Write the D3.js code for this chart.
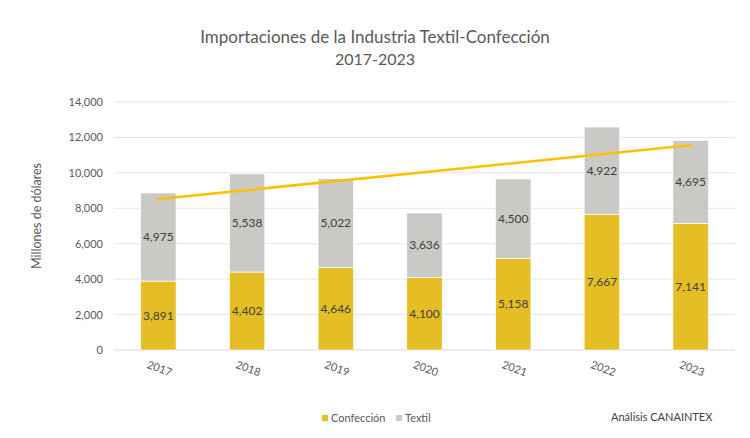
<!DOCTYPE html>
<html><head><meta charset="utf-8">
<script src="https://cdn.jsdelivr.net/npm/d3@7"></script>
<style>
body{margin:0;background:#fff;}
svg{font-family:Lato,"Open Sans",sans-serif;}
</style></head>
<body><svg id="c" width="750" height="438"></svg>
<script>
const years = ["2017","2018","2019","2020","2021","2022","2023"];
const confeccion = [3891,4402,4646,4100,5158,7667,7141];
const textil = [4975,5538,5022,3636,4500,4922,4695];
const yTicks = [0,2000,4000,6000,8000,10000,12000,14000];
const colors = {conf:"#E5BE25", text:"#C9C9C5", trend:"#FFC000"};

const svg = d3.select("#c");
const x = d3.scaleBand().domain(years).range([114,735]).paddingInner(0.6).paddingOuter(0.3);
const y = d3.scaleLinear().domain([0,14000]).range([350,102]);
const fmt = d3.format(",");

svg.append("g").selectAll("line").data(yTicks).join("line")
  .attr("x1",114).attr("x2",735).attr("y1",d=>y(d)).attr("y2",d=>y(d))
  .attr("stroke",d=>d===0?"#d9d9d9":"#e6e6e6").attr("stroke-width",1);

svg.append("g").selectAll("text").data(yTicks).join("text")
  .attr("x",103).attr("y",d=>y(d)+4).attr("text-anchor","end")
  .attr("font-size",11).attr("fill","#595959").text(fmt);

const g = svg.append("g");
years.forEach((yr,i)=>{
  const c = confeccion[i], t = textil[i];
  g.append("rect").attr("x",x(yr)).attr("width",x.bandwidth())
    .attr("y",y(c)).attr("height",y(0)-y(c)).attr("fill",colors.conf)
    .attr("stroke","#fff").attr("stroke-width",0.7);
  g.append("rect").attr("x",x(yr)).attr("width",x.bandwidth())
    .attr("y",y(c+t)).attr("height",y(c)-y(c+t)).attr("fill",colors.text)
    .attr("stroke","#fff").attr("stroke-width",0.7);
  g.append("text").attr("x",x(yr)+x.bandwidth()/2).attr("y",(y(0)+y(c))/2+4)
    .attr("text-anchor","middle").attr("font-size",12).attr("fill","#404040").text(fmt(c));
  g.append("text").attr("x",x(yr)+x.bandwidth()/2).attr("y",(y(c)+y(c+t))/2+4)
    .attr("text-anchor","middle").attr("font-size",12).attr("fill","#404040").text(fmt(t));
});

const totals = confeccion.map((c,i)=>c+textil[i]);
const n = totals.length, mx = (n-1)/2, my = d3.mean(totals);
let sxy=0,sxx=0;
totals.forEach((v,i)=>{sxy+=(i-mx)*(v-my);sxx+=(i-mx)*(i-mx);});
const slope = sxy/sxx, icpt = my - slope*mx;
const cx = yr => x(yr)+x.bandwidth()/2;
svg.append("line")
  .attr("x1",cx(years[0])).attr("y1",y(icpt))
  .attr("x2",cx(years[n-1])).attr("y2",y(icpt+slope*(n-1)))
  .attr("stroke",colors.trend).attr("stroke-width",2.5).attr("stroke-linecap","square");

svg.append("g").selectAll("text").data(years).join("text")
  .attr("transform",d=>`translate(${cx(d)},${372}) rotate(20)`)
  .attr("text-anchor","middle").attr("font-size",11).attr("fill","#595959").text(d=>d);

svg.append("text").attr("x",375).attr("y",43).attr("text-anchor","middle")
  .attr("font-size",17).attr("fill","#595959").text("Importaciones de la Industria Textil-Confección");
svg.append("text").attr("x",375).attr("y",65).attr("text-anchor","middle")
  .attr("font-size",16).attr("fill","#595959").text("2017-2023");

svg.append("text").attr("transform","translate(41,216) rotate(-90)").attr("text-anchor","middle")
  .attr("font-size",12.5).attr("fill","#595959").text("Millones de dólares");

const leg = [["Confección",colors.conf,322],["Textil",colors.text,396]];
leg.forEach(([lab,col,lx])=>{
  svg.append("rect").attr("x",lx).attr("y",415).attr("width",6).attr("height",6).attr("fill",col);
  svg.append("text").attr("x",lx+9).attr("y",422).attr("font-size",11).attr("fill","#595959").text(lab);
});
svg.append("text").attr("x",611).attr("y",421).attr("font-size",11).attr("fill","#404040").text("Análisis CANAINTEX");
</script></body></html>
